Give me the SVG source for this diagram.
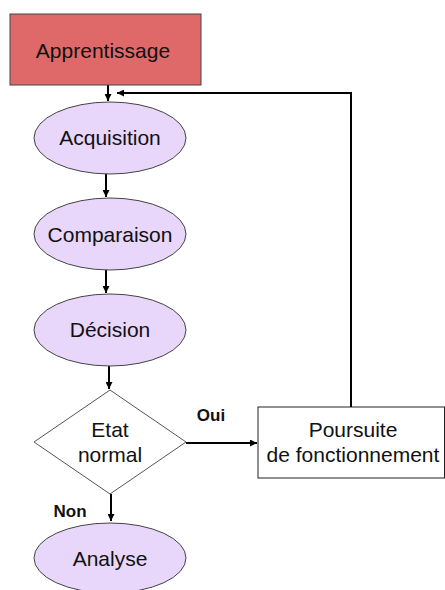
<svg xmlns="http://www.w3.org/2000/svg" width="445" height="590" viewBox="0 0 445 590">
<defs>
<style>
.t{font-family:"Liberation Sans",Arial,sans-serif;font-size:21px;fill:#111;text-anchor:middle}
.b{font-family:"Liberation Sans",Arial,sans-serif;font-size:17px;font-weight:bold;fill:#111;text-anchor:middle}
.ell{fill:#E8D6FB;stroke:#444;stroke-width:1}
.ln{fill:none;stroke:#000;stroke-width:2}
</style>
<marker id="ah" viewBox="0 0 10 10" refX="10" refY="5" markerWidth="8" markerHeight="7" markerUnits="userSpaceOnUse" orient="auto">
<path d="M0,0 L10,5 L0,10 z" fill="#000"/>
</marker>
</defs>
<rect width="445" height="590" fill="#fff"/>
<g id="connectors">
<line class="ln" x1="108" y1="85" x2="108" y2="101" marker-end="url(#ah)"/>
<line class="ln" x1="106" y1="174" x2="106" y2="197" marker-end="url(#ah)"/>
<line class="ln" x1="106" y1="270" x2="106" y2="293" marker-end="url(#ah)"/>
<line class="ln" x1="109" y1="366" x2="109" y2="389" marker-end="url(#ah)"/>
<line class="ln" x1="111" y1="494" x2="111" y2="521" marker-end="url(#ah)"/>
<line class="ln" x1="186" y1="443" x2="257" y2="443" marker-end="url(#ah)"/>
<polyline class="ln" points="351,407 351,93 117,93" marker-end="url(#ah)"/>
<text class="b" x="211" y="421">Oui</text>
<text class="b" x="70" y="517">Non</text>
</g>
<g id="apprentissage">
<rect x="10" y="14" width="191" height="71" fill="#DF6968" stroke="#444" stroke-width="1"/>
<text class="t" x="103" y="58">Apprentissage</text>
</g>
<g id="acquisition">
<ellipse class="ell" cx="110" cy="138" rx="76" ry="36"/>
<text class="t" x="110" y="145">Acquisition</text>
</g>
<g id="comparaison">
<ellipse class="ell" cx="110" cy="234" rx="76" ry="36"/>
<text class="t" x="110" y="242">Comparaison</text>
</g>
<g id="decision">
<ellipse class="ell" cx="110" cy="330" rx="76" ry="36"/>
<text class="t" x="110" y="337">Décision</text>
</g>
<g id="etat">
<polygon points="110,390 186,442 110,494 34,442" fill="#fff" stroke="#555" stroke-width="1"/>
<text class="t" x="110" y="437">Etat</text>
<text class="t" x="110" y="462">normal</text>
</g>
<g id="poursuite">
<rect x="258" y="407" width="186.5" height="71" fill="#fff" stroke="#222" stroke-width="1"/>
<text class="t" x="353" y="437">Poursuite</text>
<text class="t" x="353" y="462">de fonctionnement</text>
</g>
<g id="analyse">
<ellipse class="ell" cx="110" cy="558" rx="76" ry="35"/>
<text class="t" x="110" y="566">Analyse</text>
</g>
</svg>
